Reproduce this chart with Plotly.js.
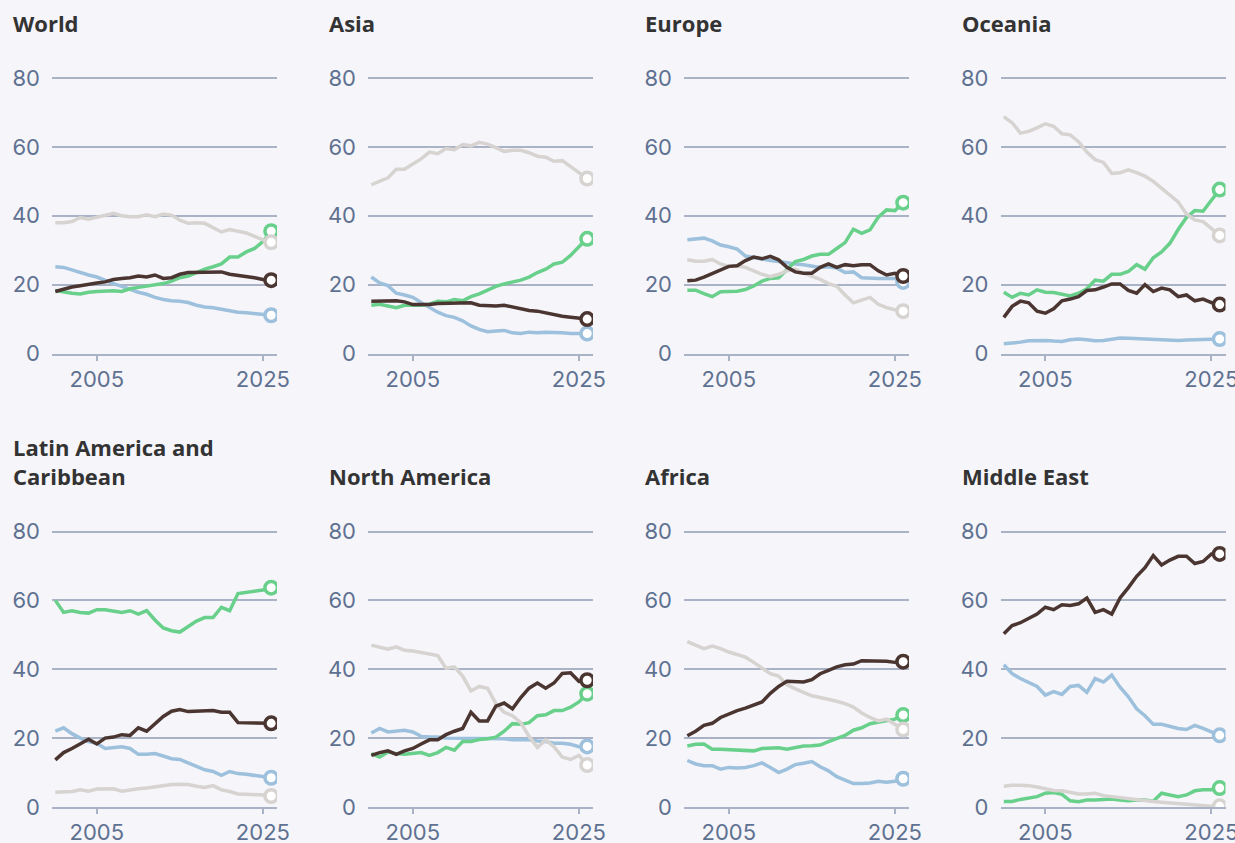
<!DOCTYPE html>
<html>
<head>
<meta charset="utf-8">
<script src="https://cdn.plot.ly/plotly-3.0.1.min.js"></script>
<style>
html,body{margin:0;padding:0;background:#f5f5fa;}
#chart{width:1235px;height:843px;}
</style>
</head>
<body>
<div id="chart"></div>
<script>
const years = [2000,2001,2002,2003,2004,2005,2006,2007,2008,2009,2010,2011,2012,2013,2014,2015,2016,2017,2018,2019,2020,2021,2022,2023,2024,2025,2026];
const regions = ["World","Asia","Europe","Oceania","Latin America and<br>Caribbean","North America","Africa","Middle East"];
const seriesNames = ["Blue","Green","Gray","Brown"];
const xTicks = [2005, 2025];
const yTicks = [0, 20, 40, 60, 80];

// Values per region, per series
const worldBlue  = [25.2,25,24.3,23.5,22.8,22.2,21.2,20.3,19.5,18.6,17.8,17.2,16.3,15.7,15.3,15.2,14.8,14,13.5,13.3,12.8,12.5,12,11.8,11.5,11.2,11.1];
const worldGreen = [18.3,17.8,17.5,17.3,17.8,18,18.2,18.2,18,18.8,19.2,19.5,19.8,20.3,21,22,22.5,23.5,24.5,25.2,26,28,28,29.5,30.5,32.5,35.5];
const worldGray  = [38,38,38.3,39.5,39,39.5,40,40.7,40,39.7,39.7,40.3,39.7,40.5,40.2,38.7,37.8,38,37.8,36.5,35.3,36,35.5,35,34,33,32.3];
const worldBrown = [18,18.7,19.3,19.7,20.2,20.5,20.8,21.5,21.8,22,22.5,22.2,22.8,21.8,22,23,23.5,23.5,23.5,23.7,23.7,23,22.7,22.3,22,21.5,21.3];

const asiaBlue  = [22.2,20.5,19.7,17.5,17,16.3,14.8,13.3,12,11,10.5,9.5,8,7,6.3,6.5,6.7,6,5.8,6.2,6,6.2,6.2,6,5.8,5.8,5.8];
const asiaGreen = [14,14.3,13.8,13.3,14,14,14,14.3,15.2,15,15.7,15.3,16.5,17.3,18.5,19.5,20.2,20.8,21.3,22.2,23.5,24.5,26,26.5,28.5,31,33.3];
const asiaGray  = [49,50,51,53.5,53.5,55,56.5,58.5,58,59.5,59.2,60.7,60.3,61.3,60.8,59.8,58.7,59,59,58.3,57.3,57,55.8,56,54.3,52.5,50.8];
const asiaBrown = [15.2,15.3,15.3,15.3,15,14.2,14.2,14.2,14.5,14.5,14.5,14.5,14.7,14,13.8,13.8,14,13.5,12.8,12.5,12.3,11.8,11.2,10.8,10.5,10.2,10];

const europeBlue  = [33,33.2,33.5,32.7,31.5,31,30.3,28.3,27.8,27.3,27,26.7,26.3,26,25.8,25.5,25,25.2,24.8,23.5,23.7,22,21.8,21.8,21.8,21.8,20.8];
const europeGreen = [18.4,18.4,17.4,16.5,17.9,18.1,18.1,18.6,19.6,21,21.8,22,24.2,26.7,27.3,28.3,28.8,28.8,30.5,32.2,36.1,34.9,35.9,39.6,41.7,41.5,43.8];
const europeGray  = [27.2,26.8,26.8,27.3,26,25.3,25.5,25,24,23,22.3,23,24,24.5,23.3,22.5,21.5,20.3,19.5,17,14.7,15.5,16.3,14.3,13.3,12.7,12.3];
const europeBrown = [21.1,21.3,22.2,23.3,24.3,25.3,25.5,27,28,27.5,28.2,27.2,25,23.7,23.3,23.3,25,26,25,25.8,25.5,25.8,25.8,24,22.8,23.3,22.5];

const oceaniaBlue  = [2.8,3,3.3,3.7,3.8,3.8,3.6,3.5,4,4.2,4,3.7,3.8,4.2,4.5,4.4,4.3,4,4,3.9,3.7,3.8,3.9,4,4.1,4.1,4.2];
const oceaniaGreen = [17.8,16.3,17.5,17,18.5,17.8,17.7,17.3,16.7,17.5,18.8,21.3,21,23,23,23.8,25.8,24.5,27.8,29.5,32,36,39.5,41.5,41.3,44.5,47.6];
const oceaniaGray  = [68.8,67,64,64.5,65.5,66.7,66,63.8,63.5,61.5,58.5,56.3,55.5,52.3,52.5,53.3,52.5,51.5,50,48,46,44,40.5,38.8,38.3,36.3,34.3];
const oceaniaBrown = [10.5,13.7,15.2,14.7,12.3,11.7,13,15.3,15.8,16.5,18.3,18.5,19.3,20.2,20.2,18.3,17.5,20,18,19,18.5,16.5,17,15.3,15.8,14.8,14.2];

const latamBlue  = [22,23,21.3,20,19,18.5,17,17.3,17.5,17,15.3,15.3,15.5,14.8,14,13.8,12.8,11.7,10.8,10.3,9.2,10.3,9.7,9.5,9.2,8.8,8.5];
const latamGreen = [60,56.5,57,56.5,56.3,57.3,57.3,57,56.5,57,56,57,54.3,52,51.2,50.8,52.5,54,55,55,58,57,62,62.3,62.5,63,63.7];
const latamGray  = [4.3,4.3,4.5,5,4.6,5.2,5.3,5.3,4.6,5,5.3,5.5,5.8,6.3,6.5,6.6,6.5,6,5.7,6.2,5,4.5,3.8,3.7,3.7,3.5,3.2];
const latamBrown = [13.7,15.8,17,18.3,19.7,18.3,20,20.3,21,20.8,23,22,24,26.3,27.8,28.3,27.7,27.8,27.8,28,27.5,27.5,24.5,24.5,24.5,24.3,24.3];

const naBlue  = [21.5,22.8,21.8,22,22.3,21.8,20.5,20.3,20.3,20,20,19.8,19.8,19.8,19.8,19.8,19.8,19.5,19.5,19.5,19.2,19,18.5,18.5,18.2,17.5,17.6];
const naGreen = [15.5,14.5,16,15.5,15.3,15.5,15.8,15,15.8,17.3,16.5,19,19,19.6,19.8,20.3,22,24.2,24,24.5,26.5,26.8,28,28,29,30.5,32.9];
const naGray  = [47,46.5,45.8,46.5,45.5,45.3,44.8,44.5,44,40.3,40.7,38,33.7,35,34.5,30,27.5,26.5,24.5,20.5,17.3,19.5,17.5,14.5,13.8,15,12.2];
const naBrown = [15,15.8,16.3,15.3,16.3,17,18.3,19.5,19.5,21,22,22.8,27.5,25,25,29.3,30.2,28.5,31.8,34.5,36,34.5,36,38.8,39,36.5,36.8];

const africaBlue  = [13.5,12.5,12,12,11,11.5,11.3,11.5,12,12.8,11.5,10,11,12.3,12.7,13.2,11.7,10.5,8.8,7.7,6.8,6.8,7,7.5,7.2,7.5,8.2];
const africaGreen = [17.7,18.2,18.3,16.8,16.8,16.7,16.7,16.5,16.3,17,17,17.2,16.8,17.2,17.7,17.8,18,19,19.8,20.8,22.3,23,24.2,24.7,25.2,25.5,26.7];
const africaGray  = [48,47,46,46.7,46,45,44.3,43.5,42,40.3,38.7,38,35.5,34.3,33.3,32.3,31.8,31.3,30.7,30,29,27.3,26,25,25.5,24,22.5];
const africaBrown = [20.7,22,23.7,24.3,26,27,28,28.7,29.7,30.5,33,35,36.5,36.3,36.3,37,38.7,39.7,40.7,41.3,41.5,42.5,42.5,42.5,42.3,42,42.2];

const meBlue  = [41.3,38.7,37.3,36.2,35,32.5,33.5,32.7,35,35.3,33.3,37.3,36.3,38.3,34.8,32,28.5,26.5,24,24,23.3,22.8,22.5,23.7,22.8,21.8,20.8];
const meGreen = [1.6,1.6,2.2,2.5,3,4,4.2,3.7,1.8,1.5,2,2,2.2,2.3,2,1.8,2,2,1.7,4,3.5,3,3.5,4.7,5,5,5.5];
const meGray  = [6,6.3,6.3,6.2,5.8,5.3,4.8,4.7,4.2,3.8,3.8,4,3.3,3,2.7,2.3,2.1,1.8,1.6,1.4,1.2,1,0.8,0.5,0.3,0.2,0.2];
const meBrown = [50.3,52.7,53.5,54.7,56,58,57.3,58.7,58.5,59,60.7,56.5,57.3,56,60.7,63.7,67,69.5,73,70.3,71.7,72.8,72.8,70.7,71.3,73.5,73.5];

const panelData = [
  [worldBlue, worldGreen, worldGray, worldBrown],
  [asiaBlue, asiaGreen, asiaGray, asiaBrown],
  [europeBlue, europeGreen, europeGray, europeBrown],
  [oceaniaBlue, oceaniaGreen, oceaniaGray, oceaniaBrown],
  [latamBlue, latamGreen, latamGray, latamBrown],
  [naBlue, naGreen, naGray, naBrown],
  [africaBlue, africaGreen, africaGray, africaBrown],
  [meBlue, meGreen, meGray, meBrown]
];

const colors = ["#9dc0dd", "#68d08a", "#d6d3d1", "#4b3531"];
const gridColor = "#aab3c6";
const tickColor = "#5f7191";
const bg = "#f5f5fa";

const W = 1235, H = 843;
const colLeft = [52, 368, 684, 1000.5];
const plotW = 225;
const yMax = 84;
const pxPerUnit = 275.5 / 80;
const rowZero = [353.5, 807];   // pixel of y=0
const titleBottom = [40, 493];

const traces = [];
const layout = {
  width: W, height: H,
  margin: {l: 0, r: 0, t: 0, b: 0},
  paper_bgcolor: bg, plot_bgcolor: bg,
  showlegend: false,
  font: {family: "Inter, 'Open Sans', sans-serif", color: tickColor},
  annotations: []
};

for (let p = 0; p < 8; p++) {
  const r = Math.floor(p / 4), c = p % 4;
  const id = p === 0 ? "" : String(p + 1);
  const xa = "x" + id, ya = "y" + id;
  const topPx = rowZero[r] - yMax * pxPerUnit;
  layout["xaxis" + id] = {
    domain: [colLeft[c] / W, Math.min(1, (colLeft[c] + plotW) / W)],
    range: [1999.6, 2026.7],
    tickvals: xTicks, ticktext: xTicks.map(String),
    showgrid: false, zeroline: false,
    showline: true, linecolor: gridColor, linewidth: 2,
    ticks: "outside", ticklen: 5, tickwidth: 2, tickcolor: gridColor,
    ticklabeloverflow: "allow",
    tickfont: {size: 22, color: tickColor, family: "Inter"},
    anchor: ya, fixedrange: true
  };
  layout["yaxis" + id] = {
    domain: [1 - rowZero[r] / H, 1 - topPx / H],
    range: [0, yMax],
    tickvals: yTicks, ticktext: yTicks.map(String),
    showgrid: true, gridcolor: gridColor, gridwidth: 2,
    zeroline: false, showline: false, ticks: "",
    ticklabelstandoff: 11,
    tickfont: {size: 22, color: tickColor, family: "Inter"},
    anchor: xa, fixedrange: true
  };
  layout.annotations.push({
    text: "<b>" + regions[p] + "</b>",
    xref: "paper", yref: "paper",
    x: (colLeft[c] - 41) / W, y: 1 - titleBottom[r] / H,
    xanchor: "left", yanchor: "bottom", align: "left",
    showarrow: false,
    font: {size: 22, color: "#333333", family: "'Open Sans', sans-serif"}
  });
  const series = panelData[p];
  for (let s = 0; s < 4; s++) {
    traces.push({
      type: "scatter", mode: "lines", x: years, y: series[s],
      xaxis: xa, yaxis: ya, name: seriesNames[s],
      line: {color: colors[s], width: 3.5}, hoverinfo: "skip"
    });
  }
  for (let s = 0; s < 4; s++) {
    const n = years.length - 1;
    traces.push({
      type: "scatter", mode: "markers", x: [years[n]], y: [series[s][n]],
      xaxis: xa, yaxis: ya, name: seriesNames[s],
      marker: {symbol: "circle", size: 12.5, color: "#ffffff", line: {color: colors[s], width: 3.5}},
      hoverinfo: "skip"
    });
  }
}

Plotly.newPlot("chart", traces, layout, {displayModeBar: false, staticPlot: true});
</script>
</body>
</html>
